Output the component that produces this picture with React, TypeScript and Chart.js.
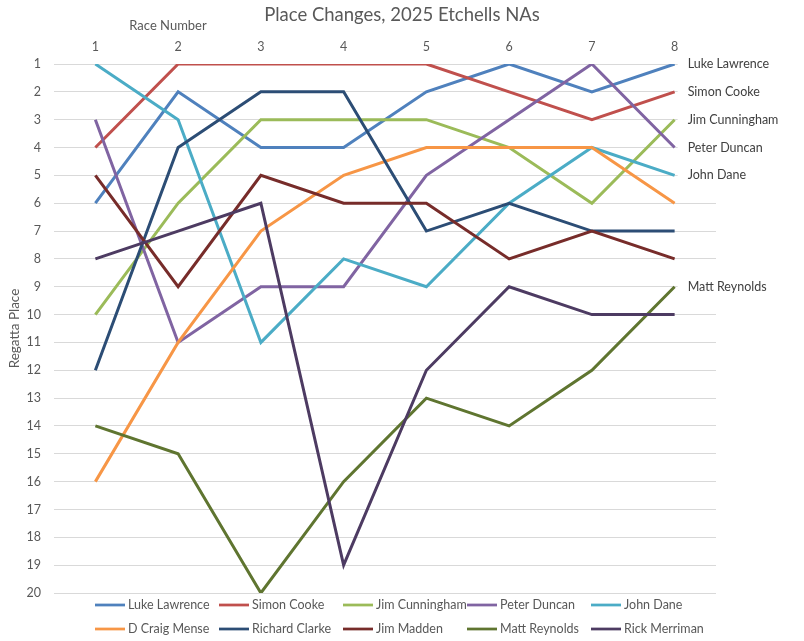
import React, { useEffect, useRef } from "react";
import { Chart, registerables } from "chart.js";

Chart.register(...registerables);

const chartTitle = "Place Changes, 2025 Etchells NAs";
const xTitle = "Race Number";
const yTitle = "Regatta Place";
const races = ["1", "2", "3", "4", "5", "6", "7", "8"];
const sailors = [
  "Luke Lawrence",
  "Simon Cooke",
  "Jim Cunningham",
  "Peter Duncan",
  "John Dane",
  "D Craig Mense",
  "Richard Clarke",
  "Jim Madden",
  "Matt Reynolds",
  "Rick Merriman",
];
const lukeLawrence = [6, 2, 4, 4, 2, 1, 2, 1];
const simonCooke = [4, 1, 1, 1, 1, 2, 3, 2];
const jimCunningham = [10, 6, 3, 3, 3, 4, 6, 3];
const peterDuncan = [3, 11, 9, 9, 5, 3, 1, 4];
const johnDane = [1, 3, 11, 8, 9, 6, 4, 5];
const dCraigMense = [16, 11, 7, 5, 4, 4, 4, 6];
const richardClarke = [12, 4, 2, 2, 7, 6, 7, 7];
const jimMadden = [5, 9, 5, 6, 6, 8, 7, 8];
const mattReynolds = [14, 15, 20, 16, 13, 14, 12, 9];
const rickMerriman = [8, 7, 6, 19, 12, 9, 10, 10];
const seriesValues = [
  lukeLawrence,
  simonCooke,
  jimCunningham,
  peterDuncan,
  johnDane,
  dCraigMense,
  richardClarke,
  jimMadden,
  mattReynolds,
  rickMerriman,
];
const seriesColors = [
  "#4F81BD",
  "#C0504D",
  "#9BBB59",
  "#8064A2",
  "#4BACC6",
  "#F79646",
  "#2C4D75",
  "#772C2A",
  "#5F7530",
  "#4D3B62",
];
const endLabelShown = [true, true, true, true, true, false, false, false, true, false];

const FONT = "Lato, 'Open Sans', sans-serif";
const GRAY = "#595959";

const overlayPlugin = {
  id: "overlay",
  afterDatasetsDraw(chart: any) {
    const ctx = chart.ctx;
    const yScale = chart.scales.y;
    const xScale = chart.scales.x;
    ctx.save();
    ctx.font = `12.5px ${FONT}`;
    ctx.textBaseline = "middle";
    ctx.textAlign = "left";
    chart.data.datasets.forEach((ds: any, i: number) => {
      if (!endLabelShown[i]) return;
      const last = ds.data[ds.data.length - 1];
      const y = yScale.getPixelForValue(last);
      const x = xScale.getPixelForValue(ds.data.length - 1) + 13;
      const w = ctx.measureText(ds.label).width;
      ctx.fillStyle = "#ffffff";
      ctx.fillRect(x - 10, y - 3, w + 14, 6);
      ctx.fillStyle = "#404040";
      ctx.fillText(ds.label, x, y);
    });
    ctx.restore();
  },
  afterDraw(chart: any) {
    const ctx = chart.ctx;
    const area = chart.chartArea;
    ctx.save();
    ctx.fillStyle = GRAY;
    ctx.textBaseline = "middle";
    ctx.textAlign = "center";
    ctx.font = `18.5px ${FONT}`;
    ctx.fillText(chartTitle, chart.width / 2, 15);
    ctx.font = `13px ${FONT}`;
    ctx.fillText(xTitle, 168, 26);
    ctx.save();
    ctx.translate(15, (area.top + area.bottom) / 2);
    ctx.rotate(-Math.PI / 2);
    ctx.font = `13.5px ${FONT}`;
    ctx.fillText(yTitle, 0, 0);
    ctx.restore();
    // legend
    ctx.textAlign = "left";
    ctx.font = `12.5px ${FONT}`;
    chart.data.datasets.forEach((ds: any, i: number) => {
      const col = i % 5;
      const row = Math.floor(i / 5);
      const x0 = 95 + col * 124;
      const y0 = 605 + row * 24;
      ctx.strokeStyle = ds.borderColor;
      ctx.lineWidth = 2.75;
      ctx.beginPath();
      ctx.moveTo(x0, y0);
      ctx.lineTo(x0 + 30, y0);
      ctx.stroke();
      ctx.fillStyle = GRAY;
      ctx.fillText(ds.label, x0 + 33, y0);
    });
    ctx.restore();
  },
};

export default function App() {
  const canvasRef = useRef<HTMLCanvasElement | null>(null);

  useEffect(() => {
    if (!canvasRef.current) return;
    const n = sailors.length;
    const chart = new Chart(canvasRef.current, {
      type: "line",
      data: {
        labels: races,
        datasets: sailors.map((name, i) => ({
          label: name,
          data: seriesValues[i],
          borderColor: seriesColors[i],
          backgroundColor: seriesColors[i],
          borderWidth: 3,
          pointRadius: 0,
          pointHoverRadius: 0,
          tension: 0,
          fill: false,
          order: n - i,
        })),
      },
      options: {
        responsive: false,
        animation: false,
        layout: { padding: { top: 0, left: 0, right: 88, bottom: 48 } },
        plugins: {
          legend: { display: false },
          title: { display: false },
          tooltip: { enabled: false },
        },
        scales: {
          x: {
            type: "category",
            position: "top",
            offset: true,
            grid: { display: false, drawTicks: false },
            border: { display: false },
            ticks: { color: GRAY, font: { family: FONT, size: 12.5 }, padding: 10 },
            afterFit: (scale: any) => {
              scale.height = 64;
            },
          },
          y: {
            type: "linear",
            reverse: true,
            min: 1,
            max: 20,
            grid: { color: "#D9D9D9", lineWidth: 1, drawTicks: false },
            border: { display: false },
            ticks: {
              stepSize: 1,
              color: GRAY,
              font: { family: FONT, size: 12.5 },
              padding: 13,
            },
            afterFit: (scale: any) => {
              scale.width = 54;
            },
          },
        },
      },
      plugins: [overlayPlugin],
    });
    return () => chart.destroy();
  }, []);

  return (
    <div style={{ position: "absolute", left: 0, top: 0, width: 804, height: 641, background: "#fff" }}>
      <canvas ref={canvasRef} width={804} height={641} />
    </div>
  );
}
